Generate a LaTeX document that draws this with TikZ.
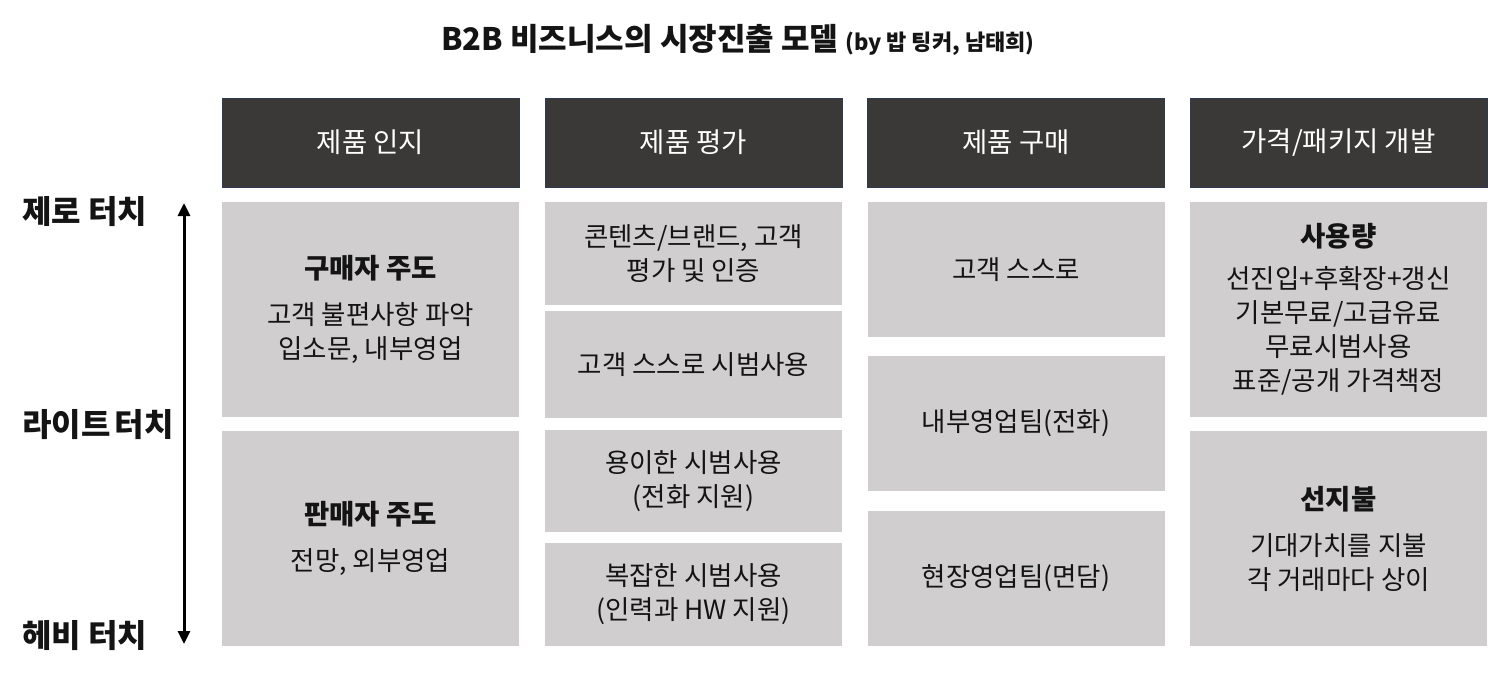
\documentclass[tikz,border=0pt]{standalone}
\usepackage{fontspec}
\setmainfont{Noto Sans CJK KR}
\usetikzlibrary{arrows.meta}
\definecolor{hdrfill}{RGB}{58,57,56}
\definecolor{hdrline}{RGB}{46,58,80}
\definecolor{cellfill}{RGB}{208,206,207}
\definecolor{txt}{RGB}{20,20,20}
\newcommand\hdrfont{\fontsize{27.5}{32}\selectfont}
\newcommand\cellfont{\fontsize{26.5}{34}\selectfont}
\newcommand\subhead[1]{{\bfseries\fontsize{27.5}{34}\selectfont #1}}
\tikzset{
  hdr/.style={fill=hdrfill, draw=hdrline, line width=1pt, text=white,
    minimum width=297pt, minimum height=89pt, inner sep=0pt, font=\hdrfont},
  cell/.style={fill=cellfill, draw=none, text=txt, align=center,
    minimum width=297pt, inner sep=0pt, font=\cellfont},
  sidelabel/.style={anchor=west, inner sep=0pt, text=txt,
    font=\bfseries\fontsize{32}{36}\selectfont},
  axis/.style={line width=3pt, {Triangle[width=12pt,length=13pt]}-{Triangle[width=12pt,length=13pt]}}
}
\begin{document}
\begin{tikzpicture}[x=1pt,y=-1pt]
\useasboundingbox (0,0) rectangle (1488,678);
% title
\node[inner sep=0pt, text=txt] (title) at (738,40)
  {{\bfseries\fontsize{31}{36}\selectfont B2B 비즈니스의 시장진출 모델}\hspace{7pt}{\bfseries\fontsize{22}{36}\selectfont (by 밥 팅커, 남태희)}};
% headers
\node[hdr] (h1) at (370.5,142.5) {제품 인지};
\node[hdr] (h2) at (693.5,142.5) {제품 평가};
\node[hdr] (h3) at (1016,142.5) {제품 구매};
\node[hdr] (h4) at (1338.5,142.5) {가격/패키지 개발};
% column 1
\node[cell, minimum height=215pt] (c1a) at (370.5,309.5)
  {\subhead{구매자 주도}\\[12pt] 고객 불편사항 파악\\ 입소문, 내부영업};
\node[cell, minimum height=215pt] (c1b) at (370.5,538.5)
  {\subhead{판매자 주도}\\[12pt] 전망, 외부영업};
% column 2
\node[cell, minimum height=103pt] (c2a) at (693.5,253.5) {콘텐츠/브랜드, 고객\\ 평가 및 인증};
\node[cell, minimum height=107pt] (c2b) at (693.5,364.5) {고객 스스로 시범사용};
\node[cell, minimum height=102pt] (c2c) at (693.5,481) {용이한 시범사용\\ (전화 지원)};
\node[cell, minimum height=103pt] (c2d) at (693.5,594.5) {복잡한 시범사용\\ (인력과 HW 지원)};
% column 3
\node[cell, minimum height=135pt] (c3a) at (1016,269.5) {고객 스스로};
\node[cell, minimum height=135pt] (c3b) at (1016,423.5) {내부영업팀(전화)};
\node[cell, minimum height=135pt] (c3c) at (1016,578.5) {현장영업팀(면담)};
% column 4
\node[cell, minimum height=215pt] (c4a) at (1338.5,309.5)
  {\subhead{사용량}\\[8pt] 선진입+후확장+갱신\\ 기본무료/고급유료\\ 무료시범사용\\ 표준/공개 가격책정};
\node[cell, minimum height=215pt] (c4b) at (1338.5,538.5)
  {\subhead{선지불}\\[12pt] 기대가치를 지불\\ 각 거래마다 상이};
% side labels
\node[sidelabel] (zero) at (22,212) {제로 터치};
\node[sidelabel] (light) at (22,425) {라이트\hspace{-3pt} 터치};
\node[sidelabel] (heavy) at (22,636) {헤비 터치};
% axis arrow
\coordinate (atop) at (184,203);
\coordinate (abot) at (184,644);
\draw[axis] (atop) -- (abot);
\end{tikzpicture}
\end{document}
